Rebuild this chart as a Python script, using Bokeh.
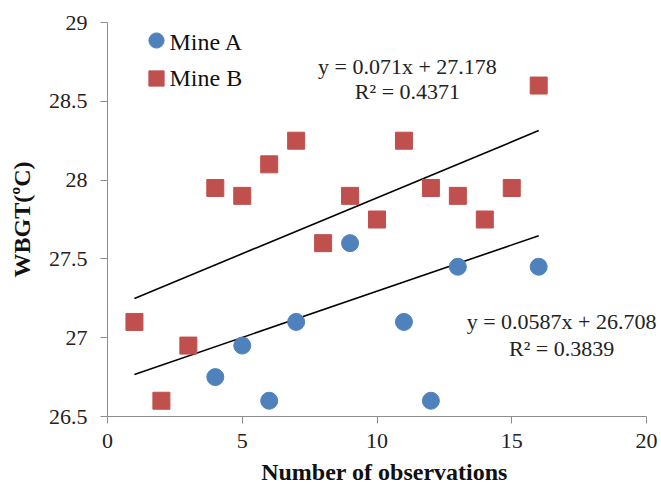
from bokeh.plotting import figure
from bokeh.models import Range1d, Legend, LegendItem, Label, FixedTicker
from bokeh.embed import file_html
from bokeh.resources import INLINE

# ---- data ----
a_x = [4, 5, 6, 7, 9, 11, 12, 13, 16]
a_y = [26.75, 26.95, 26.6, 27.1, 27.6, 27.1, 26.6, 27.45, 27.45]
b_x = [1, 2, 3, 4, 5, 6, 7, 8, 9, 10, 11, 12, 13, 14, 15, 16]
b_y = [27.1, 26.6, 26.95, 27.95, 27.9, 28.1, 28.25, 27.6, 27.9, 27.75,
       28.25, 27.95, 27.9, 27.75, 27.95, 28.6]
series_names = ["Mine A", "Mine B"]
a_slope, a_intercept, a_r2 = 0.0587, 26.708, 0.3839
b_slope, b_intercept, b_r2 = 0.071, 27.178, 0.4371
trend_x = [1, 16]          # trendline span (observation range)
x_ticks = [0, 5, 10, 15, 20]
y_ticks = [26.5, 27, 27.5, 28, 28.5, 29]

FONT = "Liberation Serif"
BLUE = "#4F81BD"
RED = "#C0504D"

# frame spans 107..661 px; x axis 0..20 maps to 107..646 px
X_END = 20 * 554 / 539

p = figure(width=661, height=487, output_backend="svg", toolbar_location=None,
           x_range=Range1d(0, X_END), y_range=Range1d(26.5, 29),
           min_border_left=107, min_border_right=0, min_border_top=22,
           min_border_bottom=70)
p.outline_line_color = None
p.grid.visible = False
p.background_fill_color = "white"
p.border_fill_color = "white"

for ax in (p.xaxis[0], p.yaxis[0]):
    ax.axis_line_color = "#8c8c8c"
    ax.major_tick_line_color = "#8c8c8c"
    ax.minor_tick_line_color = None
    ax.major_tick_in = 0
    ax.major_tick_out = 7
    ax.major_label_text_font = FONT
    ax.major_label_text_font_size = "22px"
    ax.major_label_text_color = "#222222"
    ax.axis_label_text_font = FONT
    ax.axis_label_text_font_size = "24px"
    ax.axis_label_text_font_style = "bold"
    ax.axis_label_text_color = "#111111"

p.xaxis.bounds = (0, 20)
p.xaxis.ticker = FixedTicker(ticks=x_ticks)
p.yaxis.ticker = FixedTicker(ticks=y_ticks)
p.yaxis.major_label_overrides = {t: (str(int(t)) if float(t).is_integer() else str(t)) for t in y_ticks}
p.xaxis.axis_label = "Number of observations"
p.yaxis.axis_label = "WBGT(ºC)"
p.xaxis.major_label_standoff = 10
p.xaxis.axis_label_standoff = 8
p.yaxis.major_label_standoff = 13
p.yaxis.axis_label_standoff = 11

# trendlines
def trend(m, c):
    return trend_x, [m * x + c for x in trend_x]

tx, ty = trend(b_slope, b_intercept)
p.line(tx, ty, line_color="black", line_width=1.6)
tx, ty = trend(a_slope, a_intercept)
p.line(tx, ty, line_color="black", line_width=1.6)

ra = p.scatter(a_x, a_y, marker="circle", size=17, fill_color=BLUE, line_color=BLUE)
rb = p.scatter(b_x, b_y, marker="square", size=17, fill_color=RED, line_color=RED)

# legend: markers from Bokeh's Legend, serif label texts as annotations
legend = Legend(items=[LegendItem(label=" ", renderers=[ra]),
                       LegendItem(label=" ", renderers=[rb])],
                location=(30, 319), padding=0, spacing=0,
                glyph_width=38, glyph_height=38, label_standoff=0,
                label_text_font_size="10px",
                border_line_color=None, background_fill_alpha=0)
p.add_layout(legend)
for name, ly in zip(series_names, [28.879, 28.651]):
    p.add_layout(Label(x=2.3, y=ly, text=name, text_align="left", text_baseline="middle",
                       text_font=FONT, text_font_size="24px", text_color="#111111"))

def eq_text(m, c):
    return "y = %gx + %g" % (m, c)

for txt, x, y in [(eq_text(b_slope, b_intercept), 11.13, 28.72),
                  ("R² = %g" % b_r2, 11.13, 28.565),
                  (eq_text(a_slope, a_intercept), 16.85, 27.103),
                  ("R² = %g" % a_r2, 16.85, 26.93)]:
    p.add_layout(Label(x=x, y=y, text=txt, text_align="center", text_baseline="middle",
                       text_font=FONT, text_font_size="22px", text_color="#222222"))

open("out.html", "w").write(file_html(p, INLINE))
